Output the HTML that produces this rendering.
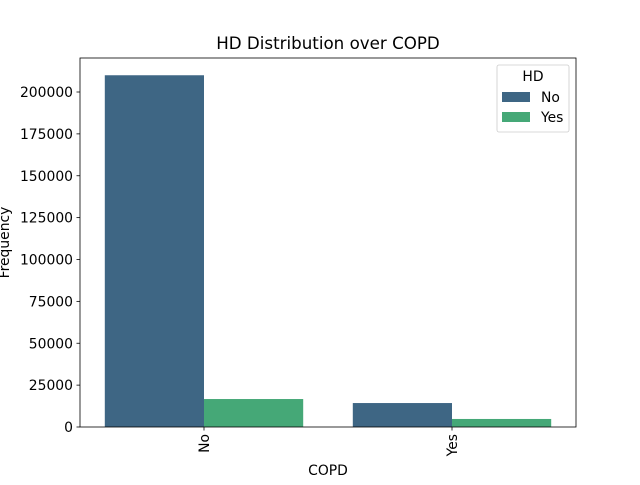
<!DOCTYPE html>
<html><head><meta charset="utf-8"><style>
body{margin:0;background:#fff;}
svg text{font-family:"DejaVu Sans","Liberation Sans",sans-serif;}
</style></head><body>
<svg id="chart" width="640" height="480">
<g id="marks"></g>
<g id="axes"></g>
</svg>
<script>
const categories = ["No", "Yes"];
const hueLabels = ["No", "Yes"];
const seriesNo = [210000, 14300];
const seriesYes = [16700, 4800];
const yTicks = [0, 25000, 50000, 75000, 100000, 125000, 150000, 175000, 200000];

const L = 80, R = 576, T = 58, B = 427, yMax = 220300;
const colors = ["#3e6684", "#45a877"];
const NS = "http://www.w3.org/2000/svg";
const marks = document.getElementById('marks');
const axes = document.getElementById('axes');
function xs(v){ return L + (v + 0.5) / categories.length * (R - L); }
function ys(v){ return B - v / yMax * (B - T); }
function mk(tag, attrs, parent){ const e = document.createElementNS(NS, tag); for (const k in attrs) e.setAttribute(k, attrs[k]); parent.appendChild(e); return e; }

const series = [seriesNo, seriesYes];
series.forEach((s, si) => {
  s.forEach((v, ci) => {
    const x0 = xs(ci - 0.4 + si * 0.4), x1 = xs(ci + si * 0.4);
    const r = mk('rect', {x: x0, y: ys(v), width: x1 - x0, height: B - ys(v), fill: colors[si]}, marks);
    
    
  });
});

const frame = mk('rect', {x: L, y: T, width: R - L, height: B - T, fill: 'none', stroke: '#000', 'stroke-width': 0.8}, axes);



yTicks.forEach(t => {
  const y = ys(t);
  mk('line', {x1: L - 3.5, x2: L, y1: y, y2: y, stroke: '#000', 'stroke-width': 0.8}, axes);
  const tx = mk('text', {x: L - 7, y: y + 5, 'text-anchor': 'end', 'font-size': 13.9}, axes);
  tx.textContent = t;
  
  
});
categories.forEach((c, i) => {
  const x = xs(i);
  mk('line', {x1: x, x2: x, y1: B, y2: B + 3.5, stroke: '#000', 'stroke-width': 0.8}, axes);
  const tx = mk('text', {x: 0, y: 0, 'text-anchor': 'end', 'font-size': 13.9, transform: `translate(${x + 5},${B + 7}) rotate(-90)`}, axes);
  tx.textContent = c;
  
  
});

const title = mk('text', {x: (L + R) / 2, y: 49, 'text-anchor': 'middle', 'font-size': 16.7}, axes);
title.textContent = 'HD Distribution over COPD';


const xl = mk('text', {x: (L + R) / 2, y: 475, 'text-anchor': 'middle', 'font-size': 13.9}, axes);
xl.textContent = 'COPD';


const yl = mk('text', {x: 0, y: 0, 'text-anchor': 'middle', 'font-size': 13.9, transform: `translate(9,${(T + B) / 2}) rotate(-90)`}, axes);
yl.textContent = 'Frequency';



const lg = mk('g', {}, axes);


mk('rect', {x: 497, y: 65, width: 72, height: 67, rx: 2, fill: '#fff', 'fill-opacity': 0.8, stroke: '#ccc', 'stroke-width': 0.8}, lg);
const lt = mk('text', {x: 533, y: 81, 'text-anchor': 'middle', 'font-size': 13.9}, lg);
lt.textContent = 'HD';
hueLabels.forEach((h, i) => {
  const y = 92 + i * 20;
  const sw = mk('rect', {x: 502, y: y, width: 28, height: 10, fill: colors[i]}, lg);
  
  
  const t = mk('text', {x: 541, y: y + 10, 'font-size': 13.9}, lg);
  t.textContent = h;
  
  
});
</script>
</body></html>
